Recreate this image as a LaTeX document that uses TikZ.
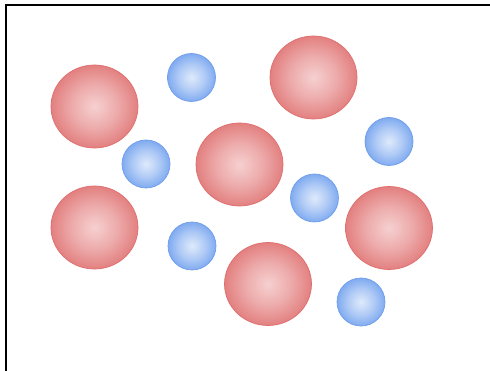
\documentclass[tikz,border=0pt]{standalone}
\usepackage{xcolor}
\usetikzlibrary{shapes.geometric}

\definecolor{redin}{HTML}{F6D0D0}
\definecolor{redmid}{HTML}{EDABAB}
\definecolor{redout}{HTML}{E38080}
\definecolor{redrim}{HTML}{E06E6E}
\definecolor{bluein}{HTML}{DFEAFB}
\definecolor{bluemid}{HTML}{B2CCF6}
\definecolor{blueout}{HTML}{80ABF0}
\definecolor{bluerim}{HTML}{6F9DEC}

\pgfdeclareradialshading{redglow}{\pgfpoint{0bp}{0bp}}{color(0bp)=(redin);
  color(13bp)=(redmid); color(25bp)=(redout); color(50bp)=(redout)}
\pgfdeclareradialshading{blueglow}{\pgfpoint{0bp}{0bp}}{color(0bp)=(bluein);
  color(13bp)=(bluemid); color(25bp)=(blueout); color(50bp)=(blueout)}

\begin{document}
\begin{tikzpicture}[x=1pt, y=-1pt,
      bigball/.style={ellipse, draw=redrim, line width=0.7pt, shading=redglow,
                      minimum width=87pt, minimum height=83pt, inner sep=0pt},
      smallball/.style={circle, draw=bluerim, line width=0.7pt, shading=blueglow,
                        minimum size=48pt, inner sep=0pt}]
      \useasboundingbox (0,0) rectangle (490,371);
      \fill[white] (0,0) rectangle (490,371);
      \draw[line width=2pt] (6,371) -- (6,5) -- (490,5);

      % large particles
      \node[bigball] (big1) at (94.5,106.5) {};
      \node[bigball] (big2) at (313.5,77.5) {};
      \node[bigball] (big3) at (239.5,164.5) {};
      \node[bigball] (big4) at (94.5,227.5) {};
      \node[bigball] (big5) at (389,228) {};
      \node[bigball] (big6) at (268,284) {};

      % small particles
      \node[smallball] (small1) at (191.5,77.5) {};
      \node[smallball] (small2) at (389,141.5) {};
      \node[smallball] (small3) at (146,164) {};
      \node[smallball] (small4) at (314.5,198) {};
      \node[smallball] (small5) at (192,246) {};
      \node[smallball] (small6) at (361,302) {};
    \end{tikzpicture}
\end{document}
